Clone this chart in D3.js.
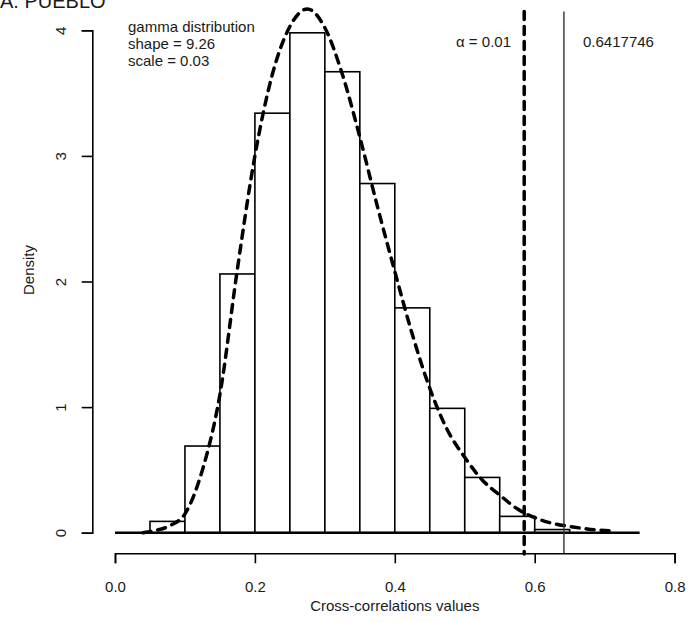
<!DOCTYPE html>
<html>
<head>
<meta charset="utf-8">
<script src="https://cdn.jsdelivr.net/npm/d3@7"></script>
<style>
  body { margin: 0; background: #fff; }
  svg text { font-family: "Liberation Sans", Arial, sans-serif; fill: #1a1a1a; }
</style>
</head>
<body>
<div id="chart"></div>
<script>
// histogram: left edge of each bin and its density
const binStarts = [0.05, 0.10, 0.15, 0.20, 0.25, 0.30, 0.35, 0.40, 0.45, 0.50, 0.55, 0.60];
const binWidth = 0.05;
const densities = [0.09, 0.69, 2.06, 3.34, 3.98, 3.67, 2.78, 1.79, 0.99, 0.44, 0.13, 0.025];

// dashed gamma curve, read at these x positions
const curveX = [0.04, 0.06, 0.08, 0.10, 0.125, 0.15, 0.175, 0.20, 0.225, 0.25, 0.275, 0.30, 0.325,
                0.35, 0.375, 0.40, 0.425, 0.45, 0.475, 0.50, 0.525, 0.55, 0.575, 0.60, 0.625,
                0.65, 0.675, 0.70, 0.715];
const curveY = [0.00, 0.02, 0.06, 0.15, 0.50, 1.10, 2.10, 3.00, 3.65, 4.03, 4.17, 4.02, 3.65,
                3.15, 2.60, 2.08, 1.58, 1.15, 0.82, 0.60, 0.42, 0.30, 0.19, 0.12, 0.075,
                0.05, 0.03, 0.018, 0.015];

const xTicks = [0, 0.2, 0.4, 0.6, 0.8];
const yTicks = [0, 1, 2, 3, 4];

const baseRange = [0, 0.75];      // zero line under the bars
const alphaCut = 0.585;           // alpha = 0.01 threshold
const observed = 0.6417746;       // observed value
const vRange = [-0.17, 4.15];     // vertical extent of the two reference lines
const fitLines = ["gamma distribution", "shape = 9.26", "scale = 0.03"];

const W = 699, H = 622;

const svg = d3.select('#chart')
  .append('svg')
  .attr('width', W)
  .attr('height', H);

const x = d3.scaleLinear().domain([0, 0.8]).range([115, 674.6]);
const y = d3.scaleLinear().domain([0, 4]).range([532.7, 30.3]);

// bars
svg.append('g')
  .selectAll('rect')
  .data(binStarts.map((s, i) => ({ s, v: densities[i] })))
  .join('rect')
  .attr('x', d => x(d.s))
  .attr('y', d => y(d.v))
  .attr('width', d => x(d.s + binWidth) - x(d.s))
  .attr('height', d => y(0) - y(d.v))
  .attr('fill', '#fff')
  .attr('stroke', '#000')
  .attr('stroke-width', 1.6);

// zero line
svg.append('line')
  .attr('x1', x(baseRange[0])).attr('x2', x(baseRange[1]))
  .attr('y1', y(0)).attr('y2', y(0))
  .attr('stroke', '#000')
  .attr('stroke-width', 2.4);

// fitted curve
const line = d3.line()
  .x(d => x(d[0]))
  .y(d => y(d[1]))
  .curve(d3.curveMonotoneX);

svg.append('path')
  .datum(curveX.map((v, i) => [v, curveY[i]]))
  .attr('d', line)
  .attr('fill', 'none')
  .attr('stroke', '#000')
  .attr('stroke-width', 3.5)
  .attr('stroke-linecap', 'round')
  .attr('stroke-dasharray', '8,7');

// threshold lines
svg.append('line')
  .attr('x1', x(alphaCut)).attr('x2', x(alphaCut))
  .attr('y1', y(vRange[1])).attr('y2', y(vRange[0]))
  .attr('stroke', '#000')
  .attr('stroke-width', 3.5)
  .attr('stroke-linecap', 'round')
  .attr('stroke-dasharray', '8,7');

svg.append('line')
  .attr('x1', x(observed)).attr('x2', x(observed))
  .attr('y1', y(vRange[1])).attr('y2', y(0) + 20.6)
  .attr('stroke', '#333')
  .attr('stroke-width', 1.4);

// axes
const xAxis = svg.append('g')
  .attr('transform', `translate(0,${y(0) + 20.6})`)
  .call(d3.axisBottom(x).tickValues(xTicks).tickFormat(d3.format('.1f'))
    .tickSize(10).tickPadding(18));

const yAxis = svg.append('g')
  .attr('transform', `translate(${x(0) - 22.7},0)`)
  .call(d3.axisLeft(y).tickValues(yTicks).tickFormat(d3.format('d'))
    .tickSize(10.6));

svg.selectAll('.domain, .tick line')
  .attr('stroke', '#000')
  .attr('stroke-width', 1.6);

svg.selectAll('.tick text')
  .attr('font-size', 15)
  .attr('font-family', '"Liberation Sans", Arial, sans-serif')
  .attr('fill', '#1a1a1a');

yAxis.selectAll('.tick text')
  .attr('x', null)
  .attr('dy', null)
  .attr('text-anchor', 'middle')
  .attr('transform', 'translate(-26.3,0) rotate(-90)');

// axis titles
svg.append('text')
  .attr('x', x(0.4))
  .attr('y', 611)
  .attr('text-anchor', 'middle')
  .attr('font-size', 15)
  .text('Cross-correlations values');

svg.append('text')
  .attr('transform', 'translate(34,270) rotate(-90)')
  .attr('text-anchor', 'middle')
  .attr('font-size', 15)
  .text('Density');

// plot title (cut at the top edge)
svg.append('text')
  .attr('x', 0)
  .attr('y', 8)
  .attr('font-size', 20)
  .text('A. PUEBLO');

// fit annotation
svg.append('g')
  .selectAll('text')
  .data(fitLines)
  .join('text')
  .attr('x', 128)
  .attr('y', (d, i) => 32 + i * 17)
  .attr('font-size', 15)
  .text(d => d);

svg.append('text')
  .attr('x', 511)
  .attr('y', 47)
  .attr('text-anchor', 'end')
  .attr('font-size', 15)
  .text('α = 0.01');

svg.append('text')
  .attr('x', 583)
  .attr('y', 47)
  .attr('font-size', 15)
  .text(observed);
</script>
</body>
</html>
